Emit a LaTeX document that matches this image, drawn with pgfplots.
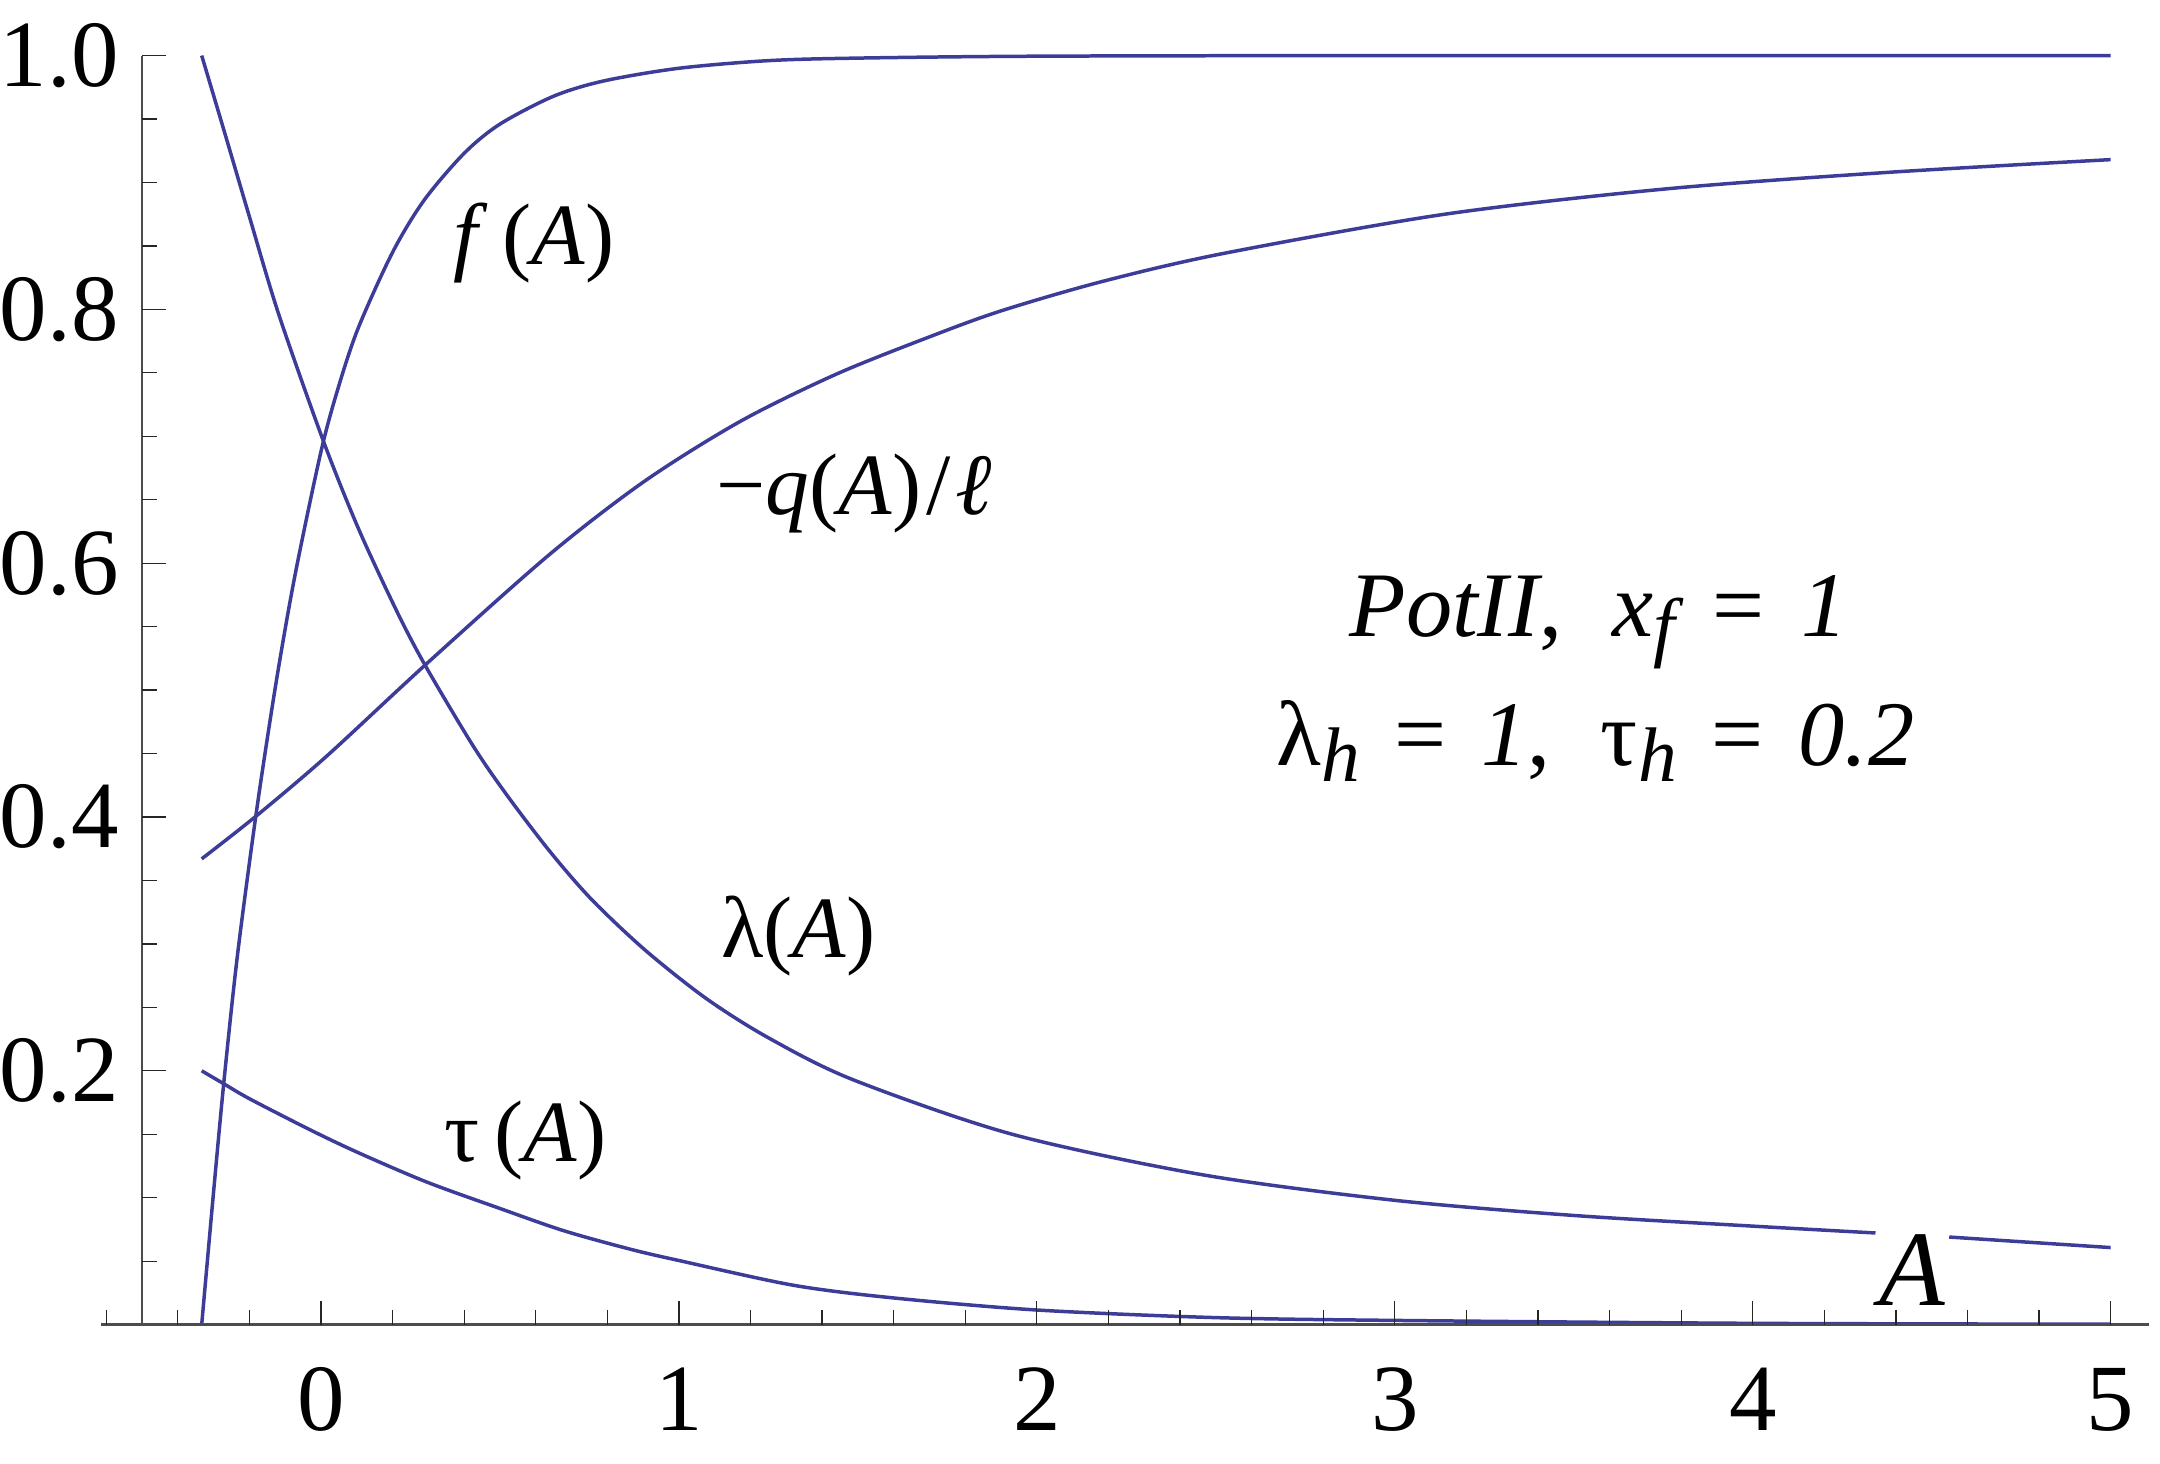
\documentclass[border=0pt]{standalone}
\usepackage{fontspec}
\setmainfont{Liberation Serif}
\usepackage{pgfplots}
\pgfplotsset{compat=1.18}

\definecolor{curve}{RGB}{61,61,153}
\definecolor{axisgray}{gray}{0.3}

\newcommand\lbl{\fontsize{17.5}{20}\selectfont}
\newcommand\prm{\fontsize{18.5}{21}\selectfont}
\newcommand\tck{\fontsize{19}{22}\selectfont}
\newcommand\sub[1]{\raisebox{-3.2pt}{\fontsize{15.5}{17}\selectfont\itshape #1}}

% f(A)
\pgfplotstableread{
x y
-0.3333 0.000
-0.300 0.105
-0.270 0.195
-0.233 0.292
-0.180 0.405
-0.126 0.505
-0.073 0.590
0.000 0.688
0.050 0.740
0.105 0.786
0.200 0.845
0.288 0.886
0.400 0.923
0.500 0.946
0.650 0.968
0.790 0.980
1.000 0.990
1.250 0.996
1.500 0.998
2.000 0.9995
3.000 1.000
5.000 1.000
}\ftab

% lambda(A), gap under the axis label
\pgfplotstableread{
x y
-0.3333 1.000
-0.270 0.940
-0.200 0.873
-0.118 0.796
0.007 0.696
0.105 0.627
0.212 0.562
0.292 0.519
0.425 0.456
0.520 0.417
0.639 0.373
0.756 0.335
0.906 0.295
1.076 0.257
1.250 0.226
1.486 0.193
1.931 0.150
2.464 0.118
2.998 0.098
3.500 0.086
4.000 0.0776
4.343 0.0722
4.400 nan
4.549 0.0690
5.000 0.0607
}\ltab

% -q(A)/l
\pgfplotstableread{
x y
-0.3333 0.367
-0.180 0.401
0.016 0.448
0.292 0.520
0.639 0.607
0.906 0.665
1.173 0.712
1.440 0.749
1.706 0.779
1.902 0.799
2.183 0.822
2.520 0.844
3.140 0.875
3.760 0.895
4.380 0.908
5.000 0.918
}\qtab

% tau(A)
\pgfplotstableread{
x y
-0.3333 0.200
-0.270 0.1895
-0.200 0.178
-0.034 0.154
0.100 0.136
0.294 0.1125
0.500 0.0915
0.678 0.074
0.863 0.0595
1.000 0.0505
1.320 0.031
1.600 0.021
2.000 0.0115
2.500 0.0055
3.000 0.0033
4.000 0.0010
5.000 0.0003
}\ttab

\begin{document}
\begin{tikzpicture}
\begin{axis}[
  x=71.69pt, y=254.18pt,
  xmin=-0.8877, xmax=5.138, ymin=-0.1097, ymax=1.0438,
  hide axis, clip=false,
  unbounded coords=jump,
]
\path (axis cs:-0.8877,-0.1097) rectangle (axis cs:5.138,1.0438);

\addplot[curve, line width=0.7pt, no marks, smooth] table {\ftab};
\addplot[curve, line width=0.7pt, no marks, smooth] table {\ltab};
\addplot[curve, line width=0.7pt, no marks, smooth] table {\qtab};
\addplot[curve, line width=0.7pt, no marks, smooth] table {\ttab};

% axes in Mathematica style
\draw[axisgray, line width=0.45pt] (axis cs:-0.614,0) -- (axis cs:5.107,0);
\draw[axisgray, line width=0.4pt] (axis cs:-0.5,0) -- (axis cs:-0.5,1);

\pgfplotsinvokeforeach{0,1,2,3,4,5}{
  \draw[black!85, line width=0.25pt] (axis cs:#1,0) -- ++(0pt,4.7pt);
  \node[anchor=base, inner sep=0pt, font=\tck, yshift=-21.2pt] at (axis cs:#1,0) {#1};
}
\pgfplotsinvokeforeach{-0.6,-0.4,-0.2,0.2,0.4,0.6,0.8,1.2,1.4,1.6,1.8,2.2,2.4,2.6,2.8,3.2,3.4,3.6,3.8,4.2,4.4,4.6,4.8}{
  \draw[black!85, line width=0.25pt] (axis cs:#1,0) -- ++(0pt,2.9pt);
}
\pgfplotsinvokeforeach{0.2,0.4,0.6,0.8,1.0}{
  \draw[black!85, line width=0.25pt] (axis cs:-0.5,#1) -- ++(4.7pt,0pt);
  \node[anchor=east, inner sep=0pt, font=\tck, xshift=-4.5pt] at (axis cs:-0.5,#1) {#1};
}
\pgfplotsinvokeforeach{0.05,0.1,0.15,0.25,0.3,0.35,0.45,0.5,0.55,0.65,0.7,0.75,0.85,0.9,0.95}{
  \draw[black!85, line width=0.25pt] (axis cs:-0.5,#1) -- ++(2.9pt,0pt);
}

% curve labels
\node[anchor=base, inner sep=0pt, font=\lbl] at (axis cs:0.596,0.8353) {\textit{f}\,(\textit{A})};
\node[anchor=base, inner sep=0pt, font=\lbl] at (axis cs:1.49,0.6386) {−\textit{q}(\textit{A})\kern1pt/\kern1pt\textit{ℓ}};
\node[anchor=base, inner sep=0pt, font=\lbl] at (axis cs:1.334,0.289) {λ(\textit{A})};
\node[anchor=base, inner sep=0pt, font=\lbl] at (axis cs:0.572,0.1286) {τ\,(\textit{A})};
\node[anchor=base, inner sep=0pt, font={\fontsize{21.5}{24}\selectfont\itshape}] at (axis cs:4.445,0.015) {A};

% parameters
\node[anchor=base, inner sep=0pt, font=\prm] at (axis cs:3.57,0.542)
  {\textit{PotII},\hspace{10pt}\textit{x}\sub{f}\hspace{7.5pt}=\hspace{7.5pt}\textit{1}};
\node[anchor=base, inner sep=0pt, font=\prm] at (axis cs:3.56,0.4403)
  {λ\sub{h}\hspace{7pt}=\hspace{7pt}\textit{1},\hspace{10pt}τ\sub{h}\hspace{7pt}=\hspace{7pt}\textit{0.2}};
\end{axis}
\end{tikzpicture}
\end{document}
